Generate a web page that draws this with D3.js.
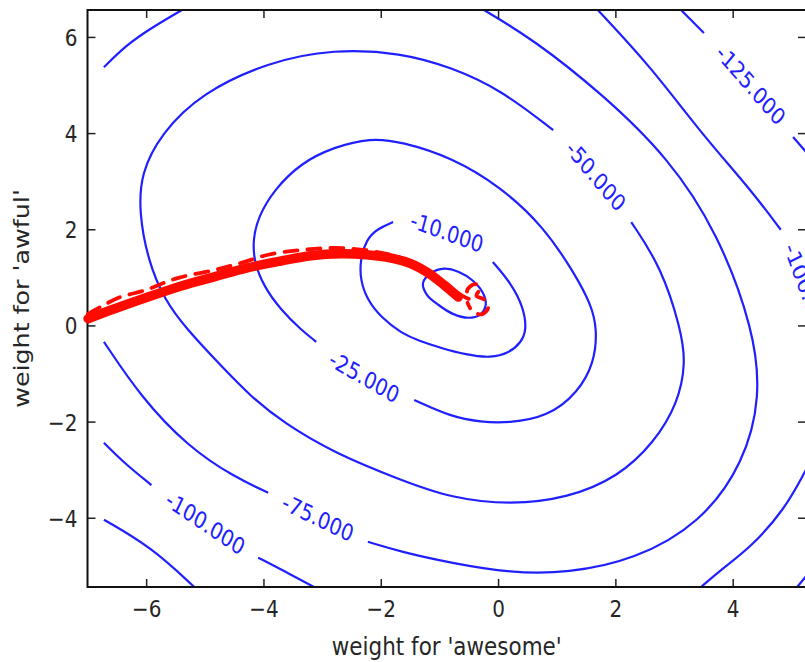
<!DOCTYPE html>
<html>
<head>
<meta charset="utf-8">
<script src="https://cdn.jsdelivr.net/npm/d3@7"></script>
<style>
  body { margin: 0; background: #fff; }
  svg { display: block; }
  text { font-family: "DejaVu Sans", sans-serif; }
</style>
</head>
<body>
<svg id="chart" width="805" height="662"></svg>
<script>
// ---------------- data ----------------
const xTicks = [-6, -4, -2, 0, 2, 4];
const yTicks = [-4, -2, 0, 2, 4, 6];
const xTitle = "weight for 'awesome'";
const yTitle = "weight for 'awful'";

// innermost (unlabelled) closed contour
const contourInner = [[-1.28,0.88],[-1.14,1.09],[-0.92,1.18],[-0.67,1.11],[-0.43,0.93],[-0.26,0.68],
  [-0.21,0.43],[-0.31,0.22],[-0.51,0.16],[-0.77,0.24],[-1.02,0.43],[-1.21,0.63]];

// level -10 (gap where the label sits)
const contour10 = [[-0.09,1.32],[0.22,0.88],[0.43,0.39],[0.49,-0.09],[0.39,-0.36],[0.19,-0.57],
  [-0.12,-0.68],[-0.55,-0.61],[-0.97,-0.47],[-1.35,-0.32],[-1.65,-0.16],[-1.99,0.16],[-2.23,0.53],
  [-2.35,0.95],[-2.35,1.36],[-2.25,1.78],[-2.06,2.01],[-1.79,2.15]];

// level -25
const contour25 = [[-1.43,-1.55],[-0.80,-1.90],[-0.29,-2.01],[0.17,-2.03],[0.85,-1.90],[1.36,-1.40],
  [1.64,-0.78],[1.69,-0.09],[1.59,0.43],[1.30,1.09],[0.78,2.05],[0.05,2.88],[-0.80,3.50],[-1.65,3.82],
  [-2.17,3.90],[-2.80,3.71],[-3.36,3.38],[-3.82,2.82],[-4.09,2.26],[-4.18,1.78],[-4.16,1.32],
  [-3.99,0.80],[-3.70,0.32],[-3.36,-0.09],[-3.10,-0.34]];

// level -50
const contour50 = [[2.27,2.15],[2.78,1.22],[3.12,-0.09],[3.20,-0.78],[3.07,-1.61],[2.66,-2.44],
  [2.05,-3.15],[1.19,-3.59],[0.22,-3.73],[-0.80,-3.59],[-1.65,-3.22],[-2.80,-2.65],[-3.65,-2.03],
  [-4.21,-1.49],[-4.77,-0.78],[-5.30,-0.09],[-5.69,0.53],[-5.97,1.36],[-6.12,2.34],[-6.09,3.17],
  [-5.74,4.00],[-5.06,4.83],[-3.92,5.48],[-2.80,5.75],[-1.65,5.67],[-0.80,5.37],[0.05,4.90],[0.94,4.06]];

// level -75 (three pieces)
const contour75a = [[-6.72,5.37],[-6.34,5.83],[-5.91,6.19],[-5.39,6.56]];
const contour75b = [[-0.24,6.56],[0.61,5.94],[1.76,4.83],[2.90,3.50],[3.75,1.92],[4.36,-0.09],
  [4.48,-1.49],[4.19,-2.86],[3.46,-4.11],[2.32,-4.88],[1.19,-5.15],[0.22,-5.15],[-0.80,-4.94],
  [-1.65,-4.71],[-2.22,-4.50]];
const contour75c = [[-3.92,-3.48],[-4.50,-3.15],[-5.28,-2.53],[-6.09,-1.49],[-6.72,-0.34]];

// level -100 (four pieces)
const contour100a = [[1.70,6.56],[2.61,5.37],[3.46,4.00],[4.31,2.82],[4.82,1.99]];
const contour100b = [[5.25,-3.00],[4.88,-3.84],[4.31,-4.61],[3.80,-5.08],[3.46,-5.44]];
const contour100c = [[-6.72,-2.44],[-6.34,-2.90],[-5.91,-3.32]];
const contour100d = [[-4.09,-4.83],[-3.61,-5.13],[-3.14,-5.44]];

// level -125 (four pieces)
const contour125a = [[3.12,6.56],[3.51,6.08]];
const contour125b = [[5.03,3.92],[5.34,3.48]];
const contour125c = [[5.10,-5.44],[5.34,-5.08]];
const contour125d = [[-6.72,-4.04],[-5.91,-4.61],[-5.18,-5.44]];

// inline contour labels
const labelTexts = ["-10.000", "-25.000", "-50.000", "-75.000", "-100.000", "-100.000", "-125.000"];
const labelX     = [-0.87, -2.28, 1.67, -3.07, -4.99, 5.27, 4.31];
const labelY     = [1.94, -1.07, 3.11, -4.00, -4.11, 0.70, 5.00];
const labelAngle = [20, 30, 50, 26, 34, 70, 49];

// coefficient paths
const pathSolid = [[-6.99,0.14],[-6.55,0.34],[-5.97,0.59],[-5.40,0.82],[-4.84,1.01],[-4.26,1.20],
  [-3.70,1.34],[-3.19,1.45],[-2.68,1.49],[-2.25,1.47],[-1.82,1.40],[-1.48,1.28],[-1.19,1.09],
  [-0.92,0.84],[-0.68,0.59]];
const pathDashed = [[-6.99,0.24],[-6.77,0.39],[-6.48,0.57],[-6.00,0.74],[-5.45,0.99],[-4.84,1.15],
  [-4.38,1.30],[-3.92,1.47],[-3.36,1.57],[-2.76,1.61],[-2.17,1.55],[-1.65,1.40],[-1.23,1.15],
  [-0.89,0.86],[-0.60,0.61],[-0.47,0.55],[-0.53,0.72],[-0.40,0.86],[-0.30,0.78],[-0.37,0.62],
  [-0.24,0.54],[-0.17,0.36],[-0.28,0.23],[-0.44,0.30],[-0.52,0.47]];

// ---------------- drawing ----------------
const STRETCH = 1.18;
const svg = d3.select("#chart");
const pL = 87.5, pR = 806, pT = 10, pB = 587;
const x = d3.scaleLinear().domain([-7, 5.25]).range([pL, pR]);
const y = d3.scaleLinear().domain([-5.44, 6.56]).range([pB, pT]);

svg.append("defs").append("clipPath").attr("id", "plotclip")
  .append("rect").attr("x", pL).attr("y", pT).attr("width", pR - pL).attr("height", pB - pT);

const blue = "#2020ff";
const contourLine = d3.line().x(d => x(d[0])).y(d => y(d[1])).curve(d3.curveBasis);
const line = d3.line().x(d => x(d[0])).y(d => y(d[1])).curve(d3.curveCatmullRom.alpha(0.5));
const lineClosed = d3.line().x(d => x(d[0])).y(d => y(d[1])).curve(d3.curveCatmullRomClosed.alpha(0.5));

const plot = svg.append("g").attr("clip-path", "url(#plotclip)");

plot.append("path").attr("d", lineClosed(contourInner))
  .attr("fill", "none").attr("stroke", blue).attr("stroke-width", 2.2);

const openContours = [contour10, contour25, contour50, contour75a, contour75b, contour75c,
  contour100a, contour100b, contour100c, contour100d,
  contour125a, contour125b, contour125c, contour125d];
plot.selectAll("path.c").data(openContours).join("path").attr("class", "c")
  .attr("d", d => contourLine(d))
  .attr("fill", "none").attr("stroke", blue).attr("stroke-width", 2.2);

// labels (angle given as seen in the picture; undo vertical stretch before rotating)
plot.selectAll("text.cl").data(labelTexts).join("text").attr("class", "cl")
  .attr("text-anchor", "middle")
  .attr("dy", "0.36em")
  .attr("font-size", 19.5)
  .attr("fill", blue)
  .attr("transform", (d, i) => {
    const a = Math.atan(Math.tan(labelAngle[i] * Math.PI / 180) / STRETCH) * 180 / Math.PI;
    return `translate(${x(labelX[i])},${y(labelY[i])}) scale(1,${STRETCH}) rotate(${a})`;
  })
  .text(d => d);

// axes (ticks inward on all four sides)
function styleAxis(g) {
  g.select(".domain").remove();
  g.selectAll(".tick line").attr("stroke", "#222").attr("stroke-width", 1.5);
}
const gB = svg.append("g").attr("transform", `translate(0,${pB})`)
  .call(d3.axisBottom(x).tickValues(xTicks).tickSize(-8).tickSizeOuter(0)).call(styleAxis);
gB.selectAll(".tick text").attr("y", null).attr("dy", null)
  .attr("transform", `translate(0,30) scale(1,${STRETCH})`)
  .attr("font-size", 20).attr("fill", "#262626").attr("font-family", "DejaVu Sans");

svg.append("g").attr("transform", `translate(0,${pT})`)
  .call(d3.axisTop(x).tickValues(xTicks).tickSize(-8).tickSizeOuter(0).tickFormat(""))
  .call(styleAxis);

const gL = svg.append("g").attr("transform", `translate(${pL},0)`)
  .call(d3.axisLeft(y).tickValues(yTicks).tickSize(-8).tickSizeOuter(0)).call(styleAxis);
gL.selectAll(".tick text").attr("x", null).attr("dy", null)
  .attr("transform", `translate(-10,8.5) scale(1,${STRETCH})`)
  .attr("font-size", 20).attr("fill", "#262626").attr("font-family", "DejaVu Sans");

svg.append("g").attr("transform", `translate(${pR},0)`)
  .call(d3.axisRight(y).tickValues(yTicks).tickSize(-8).tickSizeOuter(0).tickFormat(""))
  .call(styleAxis);

// frame
svg.append("rect").attr("x", pL).attr("y", pT).attr("width", pR - pL).attr("height", pB - pT)
  .attr("fill", "none").attr("stroke", "#111").attr("stroke-width", 2);

// red coefficient paths (drawn above frame, as in the reference)
svg.append("path").attr("d", line(pathSolid))
  .attr("fill", "none").attr("stroke", "#ff0a00").attr("stroke-width", 9.5)
  .attr("stroke-linecap", "round").attr("stroke-linejoin", "round");
svg.append("path").attr("d", line(pathDashed))
  .attr("fill", "none").attr("stroke", "#ff0a00").attr("stroke-width", 3.8)
  .attr("stroke-dasharray", "13,10").attr("stroke-linecap", "round").attr("stroke-linejoin", "round");

// axis titles
svg.append("text").attr("text-anchor", "middle")
  .attr("transform", `translate(${(pL + pR) / 2},655) scale(1,${STRETCH})`)
  .attr("font-size", 21.5).attr("fill", "#262626").text(xTitle);
svg.append("text").attr("text-anchor", "middle")
  .attr("transform", `translate(29,${(pT + pB) / 2}) scale(1,${STRETCH}) rotate(-90)`)
  .attr("font-size", 21.5).attr("fill", "#262626").text(yTitle);
</script>
</body>
</html>
